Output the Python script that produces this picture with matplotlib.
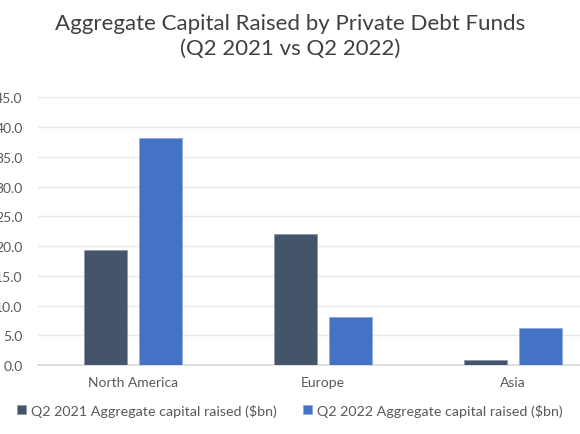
import matplotlib
matplotlib.use("Agg")
import matplotlib.pyplot as plt
import numpy as np

plt.rcParams["font.family"] = ["Lato", "DejaVu Sans"]

TITLE = "Aggregate Capital Raised by Private Debt Funds\n(Q2 2021 vs Q2 2022)"
REGIONS = ["North America", "Europe", "Asia"]
SERIES_2021 = [19.4, 22.0, 0.9]
SERIES_2022 = [38.2, 8.0, 6.2]
LABEL_2021 = "Q2 2021 Aggregate capital raised ($bn)"
LABEL_2022 = "Q2 2022 Aggregate capital raised ($bn)"
Y_TICKS = [0, 5, 10, 15, 20, 25, 30, 35, 40, 45]

COLOR_2021 = "#44546A"
COLOR_2022 = "#4472C4"
TEXT_COLOR = "#595959"

fig = plt.figure(figsize=(5.8, 4.35), dpi=100)
# plot area runs off the right edge, like the cropped source picture
ax = fig.add_axes([38 / 580, 69 / 435, 570 / 580, 267.7 / 435])

x = np.arange(len(REGIONS))
width = 0.225
offset = 0.143
bars1 = ax.bar(x - offset, SERIES_2021, width, color=COLOR_2021, label=LABEL_2021,
               edgecolor="#8a96a8", linewidth=0.5, zorder=3)
bars2 = ax.bar(x + offset, SERIES_2022, width, color=COLOR_2022, label=LABEL_2022,
               edgecolor="#8aa6dc", linewidth=0.5, zorder=3)

ax.set_xlim(-0.5, len(REGIONS) - 0.5)
ax.set_ylim(0, 45)
ax.set_yticks(Y_TICKS)
ax.set_yticklabels([f"{v:.1f}" for v in Y_TICKS])
ax.set_xticks(x)
ax.set_xticklabels(REGIONS)

ax.grid(axis="y", color="#e9e9e9", linewidth=1.0, zorder=0)
for side in ["top", "right", "left"]:
    ax.spines[side].set_visible(False)
ax.spines["bottom"].set_color("#d9d9d9")
ax.spines["bottom"].set_linewidth(1.2)
ax.tick_params(axis="both", length=0, labelsize=10, labelcolor=TEXT_COLOR)
ax.tick_params(axis="y", pad=11)
ax.tick_params(axis="x", pad=8)

fig.text(0.5, 0.917, TITLE, ha="center", va="center", fontsize=16,
         color="#404040", linespacing=1.3)

fig.legend(handles=[bars1, bars2], loc="center", bbox_to_anchor=(0.5, 0.055),
           ncol=2, frameon=False, fontsize=10.3, labelcolor=TEXT_COLOR,
           handlelength=0.6, handleheight=0.6, handletextpad=0.4, columnspacing=1.8)

fig.savefig("out.png", dpi=100)
